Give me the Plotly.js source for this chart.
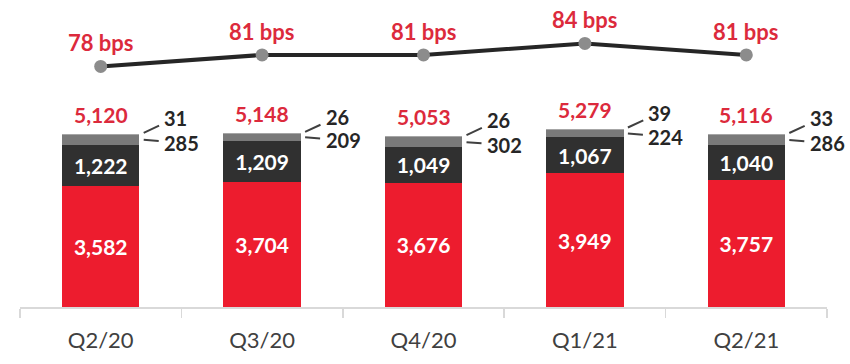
<!DOCTYPE html>
<html><head><meta charset="utf-8">
<script src="https://cdn.plot.ly/plotly-3.0.1.min.js"></script>
<style>html,body{margin:0;padding:0;background:#fff}#chart{width:850px;height:364px}</style>
</head><body><div id="chart"></div>
<script>
const quarters = ['Q2/20','Q3/20','Q4/20','Q1/21','Q2/21'];
const loans = [3582,3704,3676,3949,3757];
const dark = [1222,1209,1049,1067,1040];
const mid = [285,209,302,224,286];
const small = [31,26,26,39,33];
const totals = [5120,5148,5053,5279,5116];
const bps = [78,81,81,84,81];

const fmt = v => v.toLocaleString('en-US');
const F = 'Lato, "Open Sans", sans-serif';
const RED_TXT = '#DC2A3C';

const traces = [
  {type:'bar', x:quarters, y:loans, marker:{color:'#ED1C2E'}, width:0.48,
   text:loans.map(fmt), textposition:'inside', insidetextanchor:'middle', constraintext:'none',
   textfont:{family:F, size:21, color:'#fff', weight:700}, hoverinfo:'none'},
  {type:'bar', x:quarters, y:dark, marker:{color:'#303030'}, width:0.48,
   text:dark.map(fmt), textposition:'inside', insidetextanchor:'middle', constraintext:'none',
   textfont:{family:F, size:21, color:'#fff', weight:700}, hoverinfo:'none'},
  {type:'bar', x:quarters, y:mid, marker:{color:'#7A7A7A'}, width:0.48, textposition:'none', hoverinfo:'none'},
  {type:'bar', x:quarters, y:small, marker:{color:'#A6A6A6'}, width:0.48, textposition:'none', hoverinfo:'none'},
  {type:'scatter', mode:'lines+markers', x:quarters, y:bps, yaxis:'y2',
   line:{color:'#262626', width:4}, marker:{color:'#8C8C8C', size:13}, hoverinfo:'none'}
];

const ann = [];
quarters.forEach((q,i)=>{
  ann.push({x:q, y:totals[i], xref:'x', yref:'y', text:fmt(totals[i]), showarrow:false,
    yanchor:'bottom', yshift:5, font:{family:F, size:21, color:RED_TXT, weight:700}});
  ann.push({x:q, y:bps[i], xref:'x', yref:'y2', text:bps[i]+' bps', showarrow:false,
    yanchor:'bottom', yshift:8, font:{family:F, size:22, color:RED_TXT, weight:700}});
  ann.push({x:q, y:loans[i]+dark[i]+mid[i]/2, xref:'x', yref:'y', text:String(mid[i]),
    showarrow:true, arrowhead:0, arrowwidth:2, arrowcolor:'#404040', ax:38, ay:3, xshift:43,
    borderpad:1, standoff:0, startstandoff:4, font:{family:F, size:20, color:'#262626', weight:700}});
  ann.push({x:q, y:totals[i], xref:'x', yref:'y', text:String(small[i]),
    showarrow:true, arrowhead:0, arrowwidth:2, arrowcolor:'#404040', ax:32, ay:-15, xshift:43, yshift:1,
    borderpad:1, standoff:0, startstandoff:4, font:{family:F, size:20, color:'#262626', weight:700}});
});

const layout = {
  width:850, height:364, margin:{l:20, r:23, t:0, b:57},
  paper_bgcolor:'#fff', plot_bgcolor:'#fff',
  barmode:'stack', showlegend:false,
  xaxis:{type:'category', range:[-0.5,4.5], showline:true, linecolor:'#D9D9D9', linewidth:1.5,
    ticks:'outside', tickson:'boundaries', ticklen:9, tickcolor:'#D9D9D9', tickwidth:1.5,
    ticklabelstandoff:13,
    tickfont:{family:F, size:22, color:'#404040'}, showgrid:false, zeroline:false},
  yaxis:{range:[0,9080], visible:false, showgrid:false, zeroline:false, fixedrange:true},
  yaxis2:{range:[15.4,95.3], overlaying:'y', visible:false, showgrid:false, zeroline:false},
  annotations:ann
};

Plotly.newPlot('chart', traces, layout, {staticPlot:true, displayModeBar:false});
</script></body></html>
